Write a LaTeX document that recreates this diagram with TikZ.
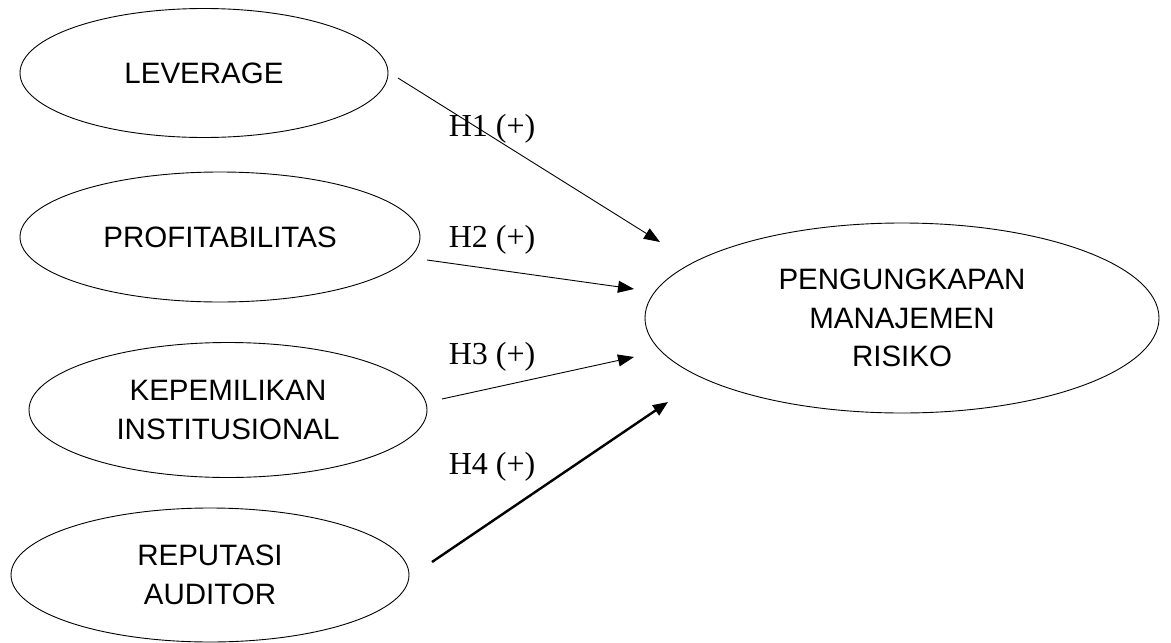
\documentclass[tikz,border=0pt]{standalone}
\usepackage{fontspec}
\setmainfont{Liberation Sans}
\newfontfamily\tnr{Liberation Serif}
\usetikzlibrary{shapes.geometric,arrows.meta}
\tikzset{
  var/.style={draw=black, line width=0.9pt, ellipse, inner sep=0pt, align=center,
    font=\fontsize{29.5}{38.5}\selectfont},
  hyp/.style={font=\tnr\fontsize{32}{36}\selectfont, inner sep=0pt},
  link/.style={line width=0.9pt, -{Triangle[length=16pt,width=12pt]}},
  thicklink/.style={line width=2.4pt, -{Triangle[length=15pt,width=12pt]}}
}
\begin{document}
\begin{tikzpicture}[x=1pt,y=-1pt]
\useasboundingbox (0,0) rectangle (1171,643);
\node[var, minimum width=368pt, minimum height=129pt] (lev) at (204,73) {LEVERAGE};
\node[var, minimum width=400pt, minimum height=130pt] (prof) at (220,237) {PROFITABILITAS};
\node[var, minimum width=398pt, minimum height=135pt] (kep) at (228,410) {KEPEMILIKAN\\INSTITUSIONAL};
\node[var, minimum width=398pt, minimum height=134pt] (rep) at (210,575) {REPUTASI\\AUDITOR};
\node[var, minimum width=514pt, minimum height=190pt] (pmr) at (902,318) {PENGUNGKAPAN\\MANAJEMEN\\RISIKO};

\node[hyp] (h1) at (492,129) {H1 (+)};
\node[hyp] (h2) at (492,240) {H2 (+)};
\node[hyp] (h3) at (492,357) {H3 (+)};
\node[hyp] (h4) at (492,467) {H4 (+)};

\coordinate (s1) at (398,78);  \coordinate (t1) at (660,242);
\coordinate (s2) at (427,260); \coordinate (t2) at (634,289);
\coordinate (s3) at (442,399); \coordinate (t3) at (634,357);
\coordinate (s4) at (432,562); \coordinate (t4) at (668,402);

\draw[link] (s1) -- (t1);
\draw[link] (s2) -- (t2);
\draw[link] (s3) -- (t3);
\draw[thicklink] (s4) -- (t4);
\end{tikzpicture}
\end{document}
